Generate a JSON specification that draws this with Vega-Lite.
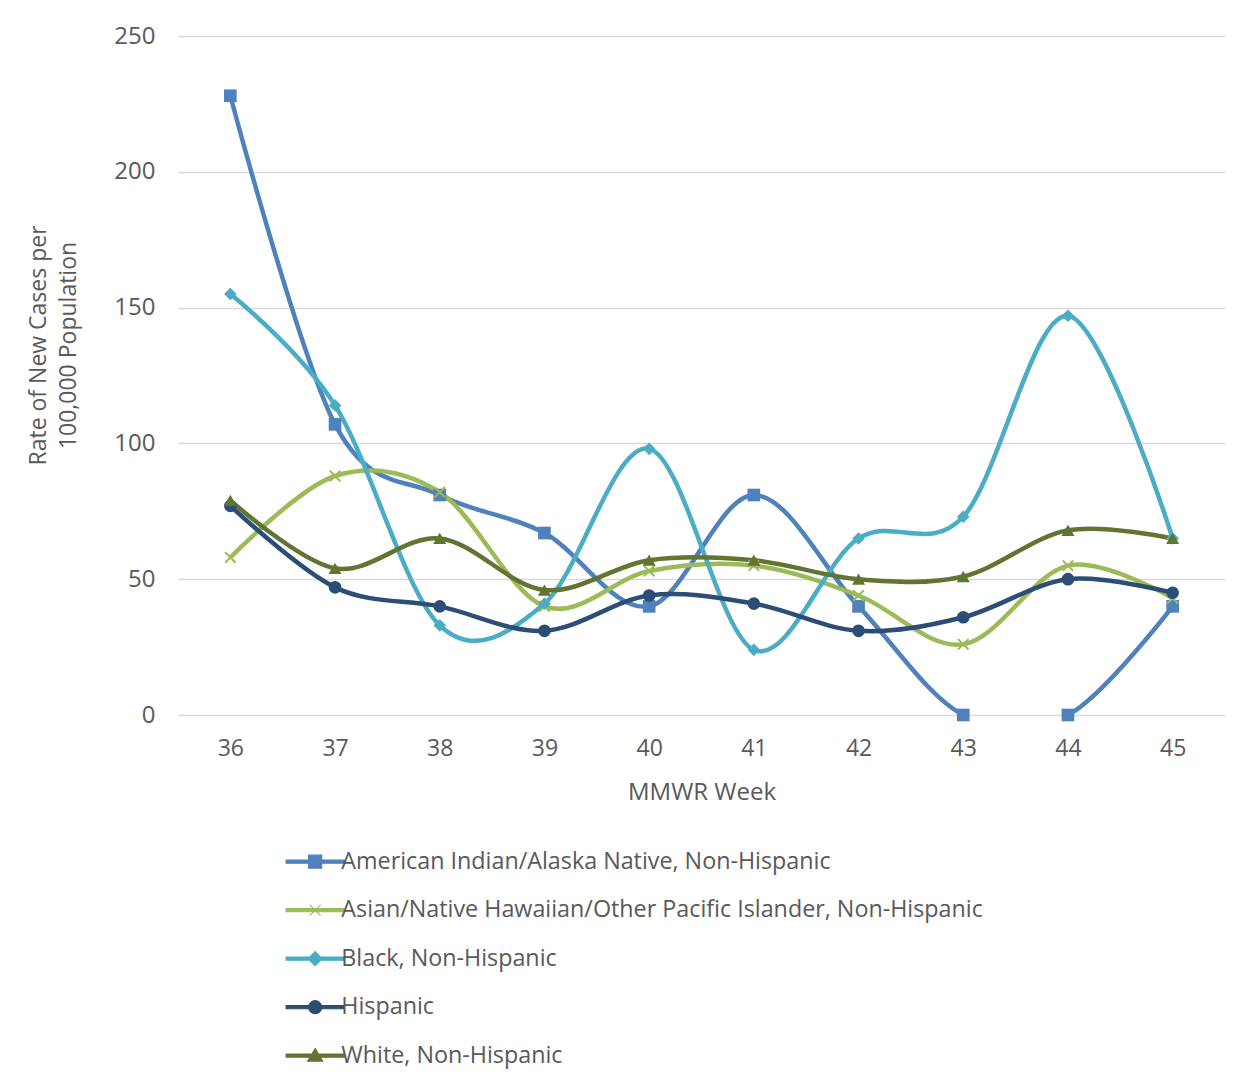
{
  "$schema": "https://vega.github.io/schema/vega-lite/v6.json",
  "autosize": {"type": "none"},
  "width": 1047,
  "height": 679,
  "padding": {"left": 178, "top": 36, "right": 28, "bottom": 371},
  "background": "white",
  "config": {
    "view": {"stroke": null},
    "axis": {"labelColor": "#595959", "titleColor": "#595959", "gridColor": "#d9d9d9", "gridWidth": 1.5}
  },
  "data": {
    "values": [
      {"week": 36, "series": "American Indian/Alaska Native, Non-Hispanic", "value": 228},
      {"week": 37, "series": "American Indian/Alaska Native, Non-Hispanic", "value": 107},
      {"week": 38, "series": "American Indian/Alaska Native, Non-Hispanic", "value": 81},
      {"week": 39, "series": "American Indian/Alaska Native, Non-Hispanic", "value": 67},
      {"week": 40, "series": "American Indian/Alaska Native, Non-Hispanic", "value": 40},
      {"week": 41, "series": "American Indian/Alaska Native, Non-Hispanic", "value": 81},
      {"week": 42, "series": "American Indian/Alaska Native, Non-Hispanic", "value": 40},
      {"week": 43, "series": "American Indian/Alaska Native, Non-Hispanic", "value": 0},
      {"week": 44, "series": "American Indian/Alaska Native, Non-Hispanic", "value": 0},
      {"week": 45, "series": "American Indian/Alaska Native, Non-Hispanic", "value": 40},
      {"week": 36, "series": "Asian/Native Hawaiian/Other Pacific Islander, Non-Hispanic", "value": 58},
      {"week": 37, "series": "Asian/Native Hawaiian/Other Pacific Islander, Non-Hispanic", "value": 88},
      {"week": 38, "series": "Asian/Native Hawaiian/Other Pacific Islander, Non-Hispanic", "value": 82},
      {"week": 39, "series": "Asian/Native Hawaiian/Other Pacific Islander, Non-Hispanic", "value": 40},
      {"week": 40, "series": "Asian/Native Hawaiian/Other Pacific Islander, Non-Hispanic", "value": 53},
      {"week": 41, "series": "Asian/Native Hawaiian/Other Pacific Islander, Non-Hispanic", "value": 55},
      {"week": 42, "series": "Asian/Native Hawaiian/Other Pacific Islander, Non-Hispanic", "value": 44},
      {"week": 43, "series": "Asian/Native Hawaiian/Other Pacific Islander, Non-Hispanic", "value": 26},
      {"week": 44, "series": "Asian/Native Hawaiian/Other Pacific Islander, Non-Hispanic", "value": 55},
      {"week": 45, "series": "Asian/Native Hawaiian/Other Pacific Islander, Non-Hispanic", "value": 43},
      {"week": 36, "series": "Black, Non-Hispanic", "value": 155},
      {"week": 37, "series": "Black, Non-Hispanic", "value": 114},
      {"week": 38, "series": "Black, Non-Hispanic", "value": 33},
      {"week": 39, "series": "Black, Non-Hispanic", "value": 41},
      {"week": 40, "series": "Black, Non-Hispanic", "value": 98},
      {"week": 41, "series": "Black, Non-Hispanic", "value": 24},
      {"week": 42, "series": "Black, Non-Hispanic", "value": 65},
      {"week": 43, "series": "Black, Non-Hispanic", "value": 73},
      {"week": 44, "series": "Black, Non-Hispanic", "value": 147},
      {"week": 45, "series": "Black, Non-Hispanic", "value": 65},
      {"week": 36, "series": "Hispanic", "value": 77},
      {"week": 37, "series": "Hispanic", "value": 47},
      {"week": 38, "series": "Hispanic", "value": 40},
      {"week": 39, "series": "Hispanic", "value": 31},
      {"week": 40, "series": "Hispanic", "value": 44},
      {"week": 41, "series": "Hispanic", "value": 41},
      {"week": 42, "series": "Hispanic", "value": 31},
      {"week": 43, "series": "Hispanic", "value": 36},
      {"week": 44, "series": "Hispanic", "value": 50},
      {"week": 45, "series": "Hispanic", "value": 45},
      {"week": 36, "series": "White, Non-Hispanic", "value": 79},
      {"week": 37, "series": "White, Non-Hispanic", "value": 54},
      {"week": 38, "series": "White, Non-Hispanic", "value": 65},
      {"week": 39, "series": "White, Non-Hispanic", "value": 46},
      {"week": 40, "series": "White, Non-Hispanic", "value": 57},
      {"week": 41, "series": "White, Non-Hispanic", "value": 57},
      {"week": 42, "series": "White, Non-Hispanic", "value": 50},
      {"week": 43, "series": "White, Non-Hispanic", "value": 51},
      {"week": 44, "series": "White, Non-Hispanic", "value": 68},
      {"week": 45, "series": "White, Non-Hispanic", "value": 65}
    ]
  },
  "encoding": {
    "x": {
      "field": "week", "type": "ordinal",
      "scale": {"type": "point", "padding": 0.5},
      "axis": {
        "title": "MMWR Week", "labelAngle": 0, "domain": false, "ticks": false,
        "labelFont": "Open Sans", "labelFontSize": 23, "labelPadding": 22,
        "titleFont": "Open Sans", "titleFontSize": 24, "titleFontWeight": "normal", "titlePadding": 20
      }
    },
    "y": {
      "field": "value", "type": "quantitative",
      "scale": {"domain": [0, 250]},
      "axis": {
        "values": [0, 50, 100, 150, 200, 250], "grid": true, "domain": false, "ticks": false,
        "labelFont": "Open Sans", "labelFontSize": 24, "labelPadding": 23,
        "title": ["Rate of New Cases per", "100,000 Population"],
        "titleFont": "Open Sans", "titleFontSize": 23, "titleFontWeight": "normal",
        "titleLineHeight": 30, "titleX": -140, "titleY": 309, "titleAngle": -90, "titleAlign": "center", "titleBaseline": "middle"
      }
    }
  },
  "layer": [
    {
      "mark": {"type": "line", "interpolate": "cardinal", "strokeWidth": 4.5, "clip": true},
      "encoding": {
        "color": {
          "field": "series", "type": "nominal",
          "scale": {
            "domain": ["American Indian/Alaska Native, Non-Hispanic", "Asian/Native Hawaiian/Other Pacific Islander, Non-Hispanic", "Black, Non-Hispanic", "Hispanic", "White, Non-Hispanic"],
            "range": ["#4F81BD", "#9BBB59", "#4BACC6", "#2C4D75", "#5F7530"]
          },
          "legend": {
            "title": null, "orient": "none", "legendX": 125.5, "legendY": 814, "direction": "vertical",
            "padding": 0, "symbolSize": 400, "labelOffset": 14.5, "rowPadding": 24.5,
            "labelFont": "Open Sans", "labelFontSize": 23.3, "labelColor": "#595959", "labelLimit": 900,
            "encode": {
              "symbols": {
                "update": {
                  "shape": {"signal": "datum.value === 'American Indian/Alaska Native, Non-Hispanic' ? 'M-2.9,-0.16L2.9,-0.16L2.9,0.16L-2.9,0.16ZM-0.65,-0.65L0.65,-0.65L0.65,0.65L-0.65,0.65Z' : datum.value === 'Asian/Native Hawaiian/Other Pacific Islander, Non-Hispanic' ? 'M-2.9,-0.16L2.9,-0.16L2.9,0.16L-2.9,0.16ZM-0.55,-0.55L0.55,0.55M-0.55,0.55L0.55,-0.55' : datum.value === 'Black, Non-Hispanic' ? 'M-2.9,-0.16L2.9,-0.16L2.9,0.16L-2.9,0.16ZM0,-0.7L0.7,0L0,0.7L-0.7,0Z' : datum.value === 'Hispanic' ? 'M-2.9,-0.16L2.9,-0.16L2.9,0.16L-2.9,0.16ZM0.65,0A0.65,0.65,0,1,1,-0.65,0A0.65,0.65,0,1,1,0.65,0Z' : 'M-2.9,-0.16L2.9,-0.16L2.9,0.16L-2.9,0.16ZM0,-0.7L0.75,0.55L-0.75,0.55Z'"},
                  "fill": {"scale": "color", "field": "value"},
                  "stroke": {"scale": "color", "field": "value"},
                  "strokeWidth": {"value": 1.2},
                  "opacity": {"value": 1},
                  "fillOpacity": {"value": 1}
                }
              }
            }
          }
        }
      }
    },
    {
      "transform": [{"filter": "datum.series === 'American Indian/Alaska Native, Non-Hispanic'"}],
      "mark": {"type": "point", "filled": true, "opacity": 1, "shape": "square", "size": 160, "color": "#4F81BD"}
    },
    {
      "transform": [{"filter": "datum.series === 'Asian/Native Hawaiian/Other Pacific Islander, Non-Hispanic'"}],
      "mark": {"type": "point", "filled": false, "opacity": 1, "shape": "M-1,-1L1,1M-1,1L1,-1", "size": 110, "strokeWidth": 2, "color": "#9BBB59"}
    },
    {
      "transform": [{"filter": "datum.series === 'Black, Non-Hispanic'"}],
      "mark": {"type": "point", "filled": true, "opacity": 1, "shape": "diamond", "size": 160, "color": "#4BACC6"}
    },
    {
      "transform": [{"filter": "datum.series === 'Hispanic'"}],
      "mark": {"type": "point", "filled": true, "opacity": 1, "shape": "circle", "size": 160, "color": "#2C4D75"}
    },
    {
      "transform": [{"filter": "datum.series === 'White, Non-Hispanic'"}],
      "mark": {"type": "point", "filled": true, "opacity": 1, "shape": "triangle-up", "size": 170, "color": "#5F7530"}
    }
  ]
}
